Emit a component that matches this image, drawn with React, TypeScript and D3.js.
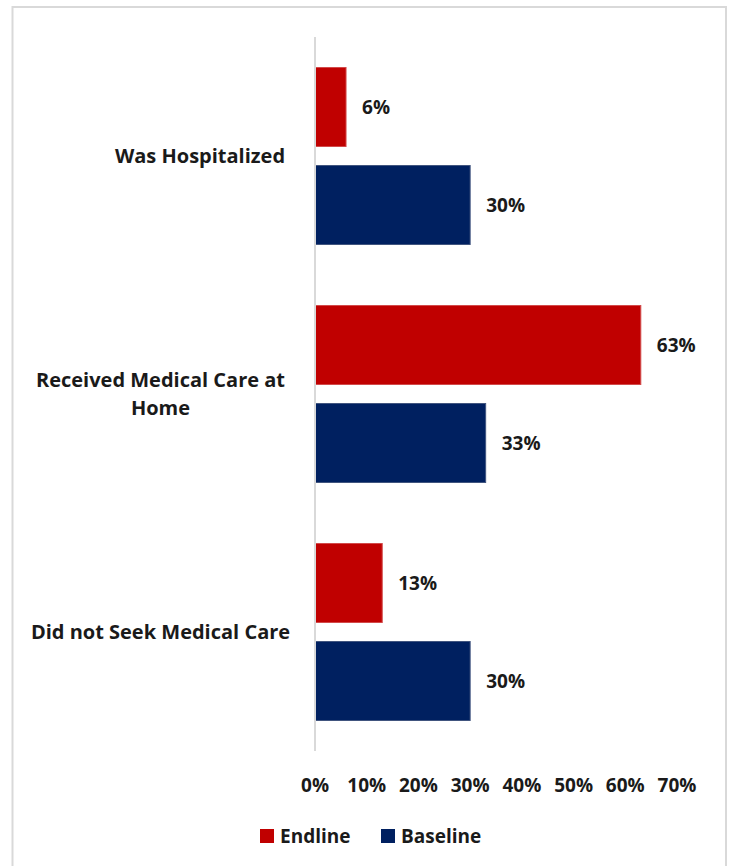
import React from "react";
import * as d3 from "d3";

const categories = ["Was Hospitalized", "Received Medical Care at Home", "Did not Seek Medical Care"];
const categoryLines = [["Was Hospitalized"], ["Received Medical Care at", "Home"], ["Did not Seek Medical Care"]];
const seriesNames = ["Endline", "Baseline"];
const endline = [6, 63, 13];
const baseline = [30, 33, 30];
const xTicks = [0, 10, 20, 30, 40, 50, 60, 70];
const colors = ["#C00000", "#002060"];
const strokeColors = ["#d24a4a", "#41557f"];

const W = 732, H = 866;
const FONT = "'Open Sans', Lato, sans-serif";
const FS = 19;
const CAT_FS = 20;

export default function App() {
  const x = d3.scaleLinear().domain([0, 70]).range([315, 677]);
  const y0 = d3.scaleBand().domain(categories).range([37, 751]).paddingInner(0).paddingOuter(0);
  const band = y0.bandwidth();
  const barH = 79, gap = 19;
  const groupH = barH * 2 + gap;
  const series = [endline, baseline];
  const textColor = "#1a1a1a";
  return (
    <svg width={W} height={H} style={{ position: "absolute", left: 0, top: 0, background: "#fff" }} fontFamily={FONT}>
      <rect x={12.5} y={7} width={713.5} height={H + 10} fill="#fff" stroke="#d9d9d9" strokeWidth={2} />
      {categories.map((c, ci) => {
        const top = (y0(c) as number) + (band - groupH) / 2;
        return (
          <g key={c}>
            {series.map((s, si) => {
              const yy = top + si * (barH + gap);
              const v = s[ci];
              return (
                <g key={si}>
                  <rect x={x(0)} y={yy} width={x(v) - x(0)} height={barH} fill={colors[si]} stroke={strokeColors[si]} strokeWidth={1} />
                  <text x={x(v) + 16} y={yy + barH / 2} dy="0.36em" fontSize={FS} fontWeight={700} fill={textColor}>{v}%</text>
                </g>
              );
            })}
          </g>
        );
      })}
      <line x1={x(0)} x2={x(0)} y1={37} y2={751} stroke="#d9d9d9" strokeWidth={2} />
      {categories.map((c, ci) => {
        const lines = categoryLines[ci];
        const cy = (y0(c) as number) + band / 2;
        const lh = 28;
        const cx = ci === 0 ? 200 : 160.5;
        return (
          <text key={c} textAnchor="middle" fontSize={CAT_FS} fontWeight={700} fill={textColor}>
            {lines.map((l, li) => (
              <tspan key={li} x={cx} y={cy + (li - (lines.length - 1) / 2) * lh} dy="0.36em">{l}</tspan>
            ))}
          </text>
        );
      })}
      {xTicks.map((t) => (
        <text key={t} x={x(t)} y={785} dy="0.36em" textAnchor="middle" fontSize={FS} fontWeight={700} fill={textColor}>{t}%</text>
      ))}
      {seriesNames.map((n, i) => {
        const lx = [260, 381][i];
        return (
          <g key={n}>
            <rect x={lx} y={829} width={14} height={14} fill={colors[i]} />
            <text x={lx + 20} y={836} dy="0.36em" fontSize={FS} fontWeight={700} fill={textColor}>{n}</text>
          </g>
        );
      })}
    </svg>
  );
}
